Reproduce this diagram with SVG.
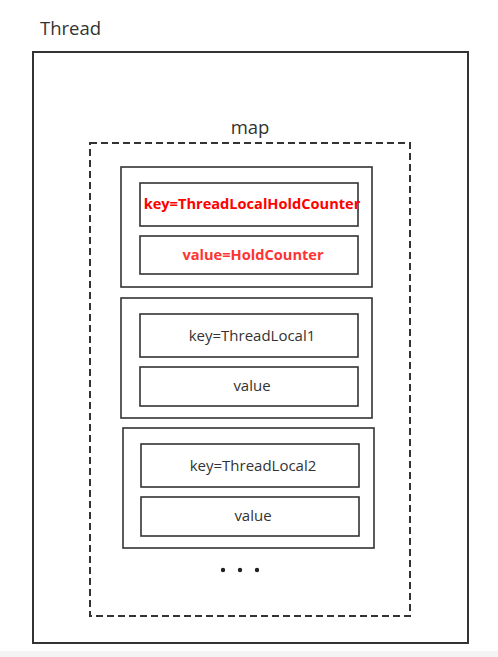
<svg xmlns="http://www.w3.org/2000/svg" width="498" height="657" viewBox="0 0 498 657">
<style>
.box{fill:#fff;stroke:#333;stroke-width:2}
.in{fill:#fff;stroke:#333;stroke-width:1.6}
.t{font-family:"Open Sans","Noto Sans",sans-serif;fill:#333}
.lbl{font-family:"Open Sans","Noto Sans",sans-serif;font-size:15px;fill:#333;text-anchor:middle}
.red{font-family:"Open Sans","Noto Sans",sans-serif;font-size:14.6px;font-weight:bold;fill:#ff0000;text-anchor:middle}
</style>
<rect x="0" y="0" width="498" height="657" fill="#fff"/>
<rect x="0" y="651" width="498" height="6" fill="#f4f4f4"/>
<g id="thread">
<text class="t" x="40" y="35" font-size="18.5">Thread</text>
<rect class="box" x="33" y="52" width="435" height="591"/>
</g>
<g id="map">
<text class="t" x="250" y="134" font-size="18.5" text-anchor="middle">map</text>
<rect x="90" y="143" width="320" height="473" fill="none" stroke="#333" stroke-width="2" stroke-dasharray="7,4"/>
</g>
<g id="entry1">
<rect class="in" x="121" y="167" width="251" height="120"/>
<rect class="in" x="140" y="183" width="218" height="43"/>
<text class="red" x="252" y="209">key=ThreadLocalHoldCounter</text>
<rect class="in" x="140" y="236" width="218" height="38"/>
<text class="red" x="253" y="260" style="fill:#ff3333">value=HoldCounter</text>
</g>
<g id="entry2">
<rect class="in" x="121" y="298" width="251" height="120"/>
<rect class="in" x="140" y="314" width="218" height="43"/>
<text class="lbl" x="252" y="341">key=ThreadLocal1</text>
<rect class="in" x="140" y="367" width="218" height="39"/>
<text class="lbl" x="252" y="391">value</text>
</g>
<g id="entry3">
<rect class="in" x="123" y="428" width="251" height="120"/>
<rect class="in" x="141" y="444" width="218" height="43"/>
<text class="lbl" x="253" y="471">key=ThreadLocal2</text>
<rect class="in" x="141" y="497" width="218" height="39"/>
<text class="lbl" x="253" y="521">value</text>
</g>
<g id="ellipsis" fill="#222">
<circle cx="223" cy="570" r="2.2"/>
<circle cx="240" cy="570" r="2.2"/>
<circle cx="257" cy="570" r="2.2"/>
</g>
<g id="connectors"></g>
</svg>
